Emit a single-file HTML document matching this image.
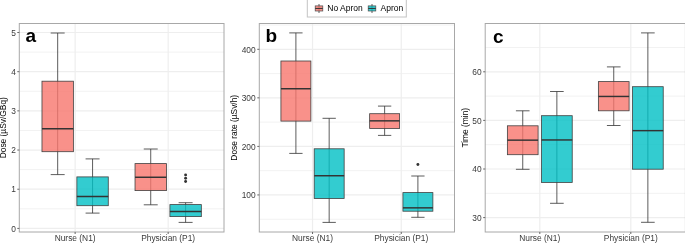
<!DOCTYPE html><html><head><meta charset="utf-8"><style>html,body{margin:0;padding:0;background:#fff;overflow:hidden;width:685px;height:243px;}svg{display:block;will-change:transform;}text{font-family:"Liberation Sans",sans-serif;}</style></head><body>
<svg width="685" height="243" viewBox="0 0 685 243">
<rect x="0" y="0" width="685" height="243" fill="#fff"/>
<line x1="19.3" y1="208.81" x2="224" y2="208.81" stroke="#F2F2F2" stroke-width="1.0"/><line x1="19.3" y1="169.63" x2="224" y2="169.63" stroke="#F2F2F2" stroke-width="1.0"/><line x1="19.3" y1="130.45" x2="224" y2="130.45" stroke="#F2F2F2" stroke-width="1.0"/><line x1="19.3" y1="91.27" x2="224" y2="91.27" stroke="#F2F2F2" stroke-width="1.0"/><line x1="19.3" y1="52.09" x2="224" y2="52.09" stroke="#F2F2F2" stroke-width="1.0"/><line x1="19.3" y1="228.4" x2="224" y2="228.4" stroke="#EEEEEE" stroke-width="1.2"/><line x1="19.3" y1="189.22" x2="224" y2="189.22" stroke="#EEEEEE" stroke-width="1.2"/><line x1="19.3" y1="150.04" x2="224" y2="150.04" stroke="#EEEEEE" stroke-width="1.2"/><line x1="19.3" y1="110.86" x2="224" y2="110.86" stroke="#EEEEEE" stroke-width="1.2"/><line x1="19.3" y1="71.68" x2="224" y2="71.68" stroke="#EEEEEE" stroke-width="1.2"/><line x1="19.3" y1="32.5" x2="224" y2="32.5" stroke="#EEEEEE" stroke-width="1.2"/><line x1="75.13" y1="23.5" x2="75.13" y2="232" stroke="#EEEEEE" stroke-width="1.2"/><line x1="168.17" y1="23.5" x2="168.17" y2="232" stroke="#EEEEEE" stroke-width="1.2"/>
<line x1="259.3" y1="219.23" x2="454.5" y2="219.23" stroke="#F2F2F2" stroke-width="1.0"/><line x1="259.3" y1="170.68" x2="454.5" y2="170.68" stroke="#F2F2F2" stroke-width="1.0"/><line x1="259.3" y1="122.12" x2="454.5" y2="122.12" stroke="#F2F2F2" stroke-width="1.0"/><line x1="259.3" y1="73.58" x2="454.5" y2="73.58" stroke="#F2F2F2" stroke-width="1.0"/><line x1="259.3" y1="25.03" x2="454.5" y2="25.03" stroke="#F2F2F2" stroke-width="1.0"/><line x1="259.3" y1="194.95" x2="454.5" y2="194.95" stroke="#EEEEEE" stroke-width="1.2"/><line x1="259.3" y1="146.4" x2="454.5" y2="146.4" stroke="#EEEEEE" stroke-width="1.2"/><line x1="259.3" y1="97.85" x2="454.5" y2="97.85" stroke="#EEEEEE" stroke-width="1.2"/><line x1="259.3" y1="49.3" x2="454.5" y2="49.3" stroke="#EEEEEE" stroke-width="1.2"/><line x1="312.54" y1="23.5" x2="312.54" y2="232" stroke="#EEEEEE" stroke-width="1.2"/><line x1="401.26" y1="23.5" x2="401.26" y2="232" stroke="#EEEEEE" stroke-width="1.2"/>
<line x1="485.2" y1="193.3" x2="685.4" y2="193.3" stroke="#F2F2F2" stroke-width="1.0"/><line x1="485.2" y1="144.7" x2="685.4" y2="144.7" stroke="#F2F2F2" stroke-width="1.0"/><line x1="485.2" y1="96.1" x2="685.4" y2="96.1" stroke="#F2F2F2" stroke-width="1.0"/><line x1="485.2" y1="47.5" x2="685.4" y2="47.5" stroke="#F2F2F2" stroke-width="1.0"/><line x1="485.2" y1="217.6" x2="685.4" y2="217.6" stroke="#EEEEEE" stroke-width="1.2"/><line x1="485.2" y1="169" x2="685.4" y2="169" stroke="#EEEEEE" stroke-width="1.2"/><line x1="485.2" y1="120.4" x2="685.4" y2="120.4" stroke="#EEEEEE" stroke-width="1.2"/><line x1="485.2" y1="71.8" x2="685.4" y2="71.8" stroke="#EEEEEE" stroke-width="1.2"/><line x1="539.8" y1="23.5" x2="539.8" y2="232" stroke="#EEEEEE" stroke-width="1.2"/><line x1="630.8" y1="23.5" x2="630.8" y2="232" stroke="#EEEEEE" stroke-width="1.2"/>
<line x1="57.68" y1="33" x2="57.68" y2="174.6" stroke="#333333" stroke-width="0.8"/><line x1="50.7" y1="33" x2="64.66" y2="33" stroke="#333333" stroke-width="0.8"/><line x1="50.7" y1="174.6" x2="64.66" y2="174.6" stroke="#333333" stroke-width="0.8"/><rect x="41.98" y="81.2" width="31.4" height="70.5" fill="#F8766D" fill-opacity="0.8" stroke="#404040" stroke-width="0.8"/><line x1="41.98" y1="128.65" x2="73.38" y2="128.65" stroke="#333333" stroke-width="1.45"/>
<line x1="92.57" y1="158.9" x2="92.57" y2="213.1" stroke="#333333" stroke-width="0.8"/><line x1="85.59" y1="158.9" x2="99.55" y2="158.9" stroke="#333333" stroke-width="0.8"/><line x1="85.59" y1="213.1" x2="99.55" y2="213.1" stroke="#333333" stroke-width="0.8"/><rect x="76.87" y="176.9" width="31.4" height="28.8" fill="#00BFC4" fill-opacity="0.8" stroke="#404040" stroke-width="0.8"/><line x1="76.87" y1="196.45" x2="108.27" y2="196.45" stroke="#333333" stroke-width="1.45"/>
<line x1="150.73" y1="149" x2="150.73" y2="204.8" stroke="#333333" stroke-width="0.8"/><line x1="143.75" y1="149" x2="157.71" y2="149" stroke="#333333" stroke-width="0.8"/><line x1="143.75" y1="204.8" x2="157.71" y2="204.8" stroke="#333333" stroke-width="0.8"/><rect x="135.03" y="163.6" width="31.4" height="27" fill="#F8766D" fill-opacity="0.8" stroke="#404040" stroke-width="0.8"/><line x1="135.03" y1="177.25" x2="166.43" y2="177.25" stroke="#333333" stroke-width="1.45"/>
<line x1="185.62" y1="202.7" x2="185.62" y2="222.4" stroke="#333333" stroke-width="0.8"/><line x1="178.64" y1="202.7" x2="192.6" y2="202.7" stroke="#333333" stroke-width="0.8"/><line x1="178.64" y1="222.4" x2="192.6" y2="222.4" stroke="#333333" stroke-width="0.8"/><rect x="169.92" y="204.6" width="31.4" height="12" fill="#00BFC4" fill-opacity="0.8" stroke="#404040" stroke-width="0.8"/><line x1="169.92" y1="211.55" x2="201.32" y2="211.55" stroke="#333333" stroke-width="1.45"/><circle cx="185.62" cy="174.9" r="1.45" fill="#333333"/><circle cx="185.62" cy="178.2" r="1.45" fill="#333333"/><circle cx="185.62" cy="181.5" r="1.45" fill="#333333"/>
<line x1="295.9" y1="32.9" x2="295.9" y2="153.4" stroke="#333333" stroke-width="0.8"/><line x1="289.25" y1="32.9" x2="302.55" y2="32.9" stroke="#333333" stroke-width="0.8"/><line x1="289.25" y1="153.4" x2="302.55" y2="153.4" stroke="#333333" stroke-width="0.8"/><rect x="280.93" y="61" width="29.95" height="60.1" fill="#F8766D" fill-opacity="0.8" stroke="#404040" stroke-width="0.8"/><line x1="280.93" y1="88.75" x2="310.87" y2="88.75" stroke="#333333" stroke-width="1.45"/>
<line x1="329.17" y1="118.3" x2="329.17" y2="222.4" stroke="#333333" stroke-width="0.8"/><line x1="322.52" y1="118.3" x2="335.83" y2="118.3" stroke="#333333" stroke-width="0.8"/><line x1="322.52" y1="222.4" x2="335.83" y2="222.4" stroke="#333333" stroke-width="0.8"/><rect x="314.2" y="148.8" width="29.95" height="49.7" fill="#00BFC4" fill-opacity="0.8" stroke="#404040" stroke-width="0.8"/><line x1="314.2" y1="175.75" x2="344.15" y2="175.75" stroke="#333333" stroke-width="1.45"/>
<line x1="384.63" y1="106.1" x2="384.63" y2="135.4" stroke="#333333" stroke-width="0.8"/><line x1="377.97" y1="106.1" x2="391.28" y2="106.1" stroke="#333333" stroke-width="0.8"/><line x1="377.97" y1="135.4" x2="391.28" y2="135.4" stroke="#333333" stroke-width="0.8"/><rect x="369.65" y="113.7" width="29.95" height="14.8" fill="#F8766D" fill-opacity="0.8" stroke="#404040" stroke-width="0.8"/><line x1="369.65" y1="120.85" x2="399.6" y2="120.85" stroke="#333333" stroke-width="1.45"/>
<line x1="417.9" y1="176" x2="417.9" y2="217.3" stroke="#333333" stroke-width="0.8"/><line x1="411.25" y1="176" x2="424.55" y2="176" stroke="#333333" stroke-width="0.8"/><line x1="411.25" y1="217.3" x2="424.55" y2="217.3" stroke="#333333" stroke-width="0.8"/><rect x="402.93" y="192.6" width="29.95" height="18.6" fill="#00BFC4" fill-opacity="0.8" stroke="#404040" stroke-width="0.8"/><line x1="402.93" y1="207.85" x2="432.87" y2="207.85" stroke="#333333" stroke-width="1.45"/><circle cx="417.9" cy="164.5" r="1.45" fill="#333333"/>
<line x1="522.74" y1="110.8" x2="522.74" y2="169.3" stroke="#333333" stroke-width="0.8"/><line x1="515.91" y1="110.8" x2="529.56" y2="110.8" stroke="#333333" stroke-width="0.8"/><line x1="515.91" y1="169.3" x2="529.56" y2="169.3" stroke="#333333" stroke-width="0.8"/><rect x="507.38" y="125.8" width="30.71" height="28.9" fill="#F8766D" fill-opacity="0.8" stroke="#404040" stroke-width="0.8"/><line x1="507.38" y1="140.15" x2="538.09" y2="140.15" stroke="#333333" stroke-width="1.45"/>
<line x1="556.86" y1="91.5" x2="556.86" y2="203.3" stroke="#333333" stroke-width="0.8"/><line x1="550.04" y1="91.5" x2="563.69" y2="91.5" stroke="#333333" stroke-width="0.8"/><line x1="550.04" y1="203.3" x2="563.69" y2="203.3" stroke="#333333" stroke-width="0.8"/><rect x="541.51" y="115.7" width="30.71" height="66.7" fill="#00BFC4" fill-opacity="0.8" stroke="#404040" stroke-width="0.8"/><line x1="541.51" y1="139.95" x2="572.22" y2="139.95" stroke="#333333" stroke-width="1.45"/>
<line x1="613.74" y1="66.9" x2="613.74" y2="125.5" stroke="#333333" stroke-width="0.8"/><line x1="606.91" y1="66.9" x2="620.56" y2="66.9" stroke="#333333" stroke-width="0.8"/><line x1="606.91" y1="125.5" x2="620.56" y2="125.5" stroke="#333333" stroke-width="0.8"/><rect x="598.38" y="81.6" width="30.71" height="29.2" fill="#F8766D" fill-opacity="0.8" stroke="#404040" stroke-width="0.8"/><line x1="598.38" y1="96.45" x2="629.09" y2="96.45" stroke="#333333" stroke-width="1.45"/>
<line x1="647.86" y1="32.9" x2="647.86" y2="222.3" stroke="#333333" stroke-width="0.8"/><line x1="641.04" y1="32.9" x2="654.69" y2="32.9" stroke="#333333" stroke-width="0.8"/><line x1="641.04" y1="222.3" x2="654.69" y2="222.3" stroke="#333333" stroke-width="0.8"/><rect x="632.51" y="86.7" width="30.71" height="82.5" fill="#00BFC4" fill-opacity="0.8" stroke="#404040" stroke-width="0.8"/><line x1="632.51" y1="130.65" x2="663.22" y2="130.65" stroke="#333333" stroke-width="1.45"/>
<rect x="19.3" y="23.5" width="204.7" height="208.5" fill="none" stroke="#A8A8A8" stroke-width="1"/>
<line x1="17.3" y1="228.4" x2="19.3" y2="228.4" stroke="#666666" stroke-width="1"/><text x="16" y="231.65" font-size="8.4" fill="#3a3a3a" text-anchor="end">0</text><line x1="17.3" y1="189.22" x2="19.3" y2="189.22" stroke="#666666" stroke-width="1"/><text x="16" y="192.47" font-size="8.4" fill="#3a3a3a" text-anchor="end">1</text><line x1="17.3" y1="150.04" x2="19.3" y2="150.04" stroke="#666666" stroke-width="1"/><text x="16" y="153.29" font-size="8.4" fill="#3a3a3a" text-anchor="end">2</text><line x1="17.3" y1="110.86" x2="19.3" y2="110.86" stroke="#666666" stroke-width="1"/><text x="16" y="114.11" font-size="8.4" fill="#3a3a3a" text-anchor="end">3</text><line x1="17.3" y1="71.68" x2="19.3" y2="71.68" stroke="#666666" stroke-width="1"/><text x="16" y="74.93" font-size="8.4" fill="#3a3a3a" text-anchor="end">4</text><line x1="17.3" y1="32.5" x2="19.3" y2="32.5" stroke="#666666" stroke-width="1"/><text x="16" y="35.75" font-size="8.4" fill="#3a3a3a" text-anchor="end">5</text><line x1="75.13" y1="232" x2="75.13" y2="234" stroke="#666666" stroke-width="1"/><text x="75.13" y="241.35" font-size="8.4" fill="#3a3a3a" text-anchor="middle">Nurse (N1)</text><line x1="168.17" y1="232" x2="168.17" y2="234" stroke="#666666" stroke-width="1"/><text x="168.17" y="241.35" font-size="8.4" fill="#3a3a3a" text-anchor="middle">Physician (P1)</text><text x="25.6" y="42.3" font-size="19" font-weight="bold" fill="#000">a</text><text x="6.15" y="127.75" font-size="8.4" fill="#000" text-anchor="middle" transform="rotate(-90 6.15 127.75)">Dose (µSv/GBq)</text>
<rect x="259.3" y="23.5" width="195.2" height="208.5" fill="none" stroke="#A8A8A8" stroke-width="1"/>
<line x1="257.3" y1="194.95" x2="259.3" y2="194.95" stroke="#666666" stroke-width="1"/><text x="255.7" y="198.2" font-size="8.4" fill="#3a3a3a" text-anchor="end">100</text><line x1="257.3" y1="146.4" x2="259.3" y2="146.4" stroke="#666666" stroke-width="1"/><text x="255.7" y="149.65" font-size="8.4" fill="#3a3a3a" text-anchor="end">200</text><line x1="257.3" y1="97.85" x2="259.3" y2="97.85" stroke="#666666" stroke-width="1"/><text x="255.7" y="101.1" font-size="8.4" fill="#3a3a3a" text-anchor="end">300</text><line x1="257.3" y1="49.3" x2="259.3" y2="49.3" stroke="#666666" stroke-width="1"/><text x="255.7" y="52.55" font-size="8.4" fill="#3a3a3a" text-anchor="end">400</text><line x1="312.54" y1="232" x2="312.54" y2="234" stroke="#666666" stroke-width="1"/><text x="312.54" y="241.35" font-size="8.4" fill="#3a3a3a" text-anchor="middle">Nurse (N1)</text><line x1="401.26" y1="232" x2="401.26" y2="234" stroke="#666666" stroke-width="1"/><text x="401.26" y="241.35" font-size="8.4" fill="#3a3a3a" text-anchor="middle">Physician (P1)</text><text x="265.6" y="42.3" font-size="19" font-weight="bold" fill="#000">b</text><text x="236.7" y="127.75" font-size="8.4" fill="#000" text-anchor="middle" transform="rotate(-90 236.7 127.75)">Dose rate (µSv/h)</text>
<rect x="485.2" y="23.5" width="200.2" height="208.5" fill="none" stroke="#A8A8A8" stroke-width="1"/>
<line x1="483.2" y1="217.6" x2="485.2" y2="217.6" stroke="#666666" stroke-width="1"/><text x="481.7" y="220.85" font-size="8.4" fill="#3a3a3a" text-anchor="end">30</text><line x1="483.2" y1="169" x2="485.2" y2="169" stroke="#666666" stroke-width="1"/><text x="481.7" y="172.25" font-size="8.4" fill="#3a3a3a" text-anchor="end">40</text><line x1="483.2" y1="120.4" x2="485.2" y2="120.4" stroke="#666666" stroke-width="1"/><text x="481.7" y="123.65" font-size="8.4" fill="#3a3a3a" text-anchor="end">50</text><line x1="483.2" y1="71.8" x2="485.2" y2="71.8" stroke="#666666" stroke-width="1"/><text x="481.7" y="75.05" font-size="8.4" fill="#3a3a3a" text-anchor="end">60</text><line x1="539.8" y1="232" x2="539.8" y2="234" stroke="#666666" stroke-width="1"/><text x="539.8" y="241.35" font-size="8.4" fill="#3a3a3a" text-anchor="middle">Nurse (N1)</text><line x1="630.8" y1="232" x2="630.8" y2="234" stroke="#666666" stroke-width="1"/><text x="630.8" y="241.35" font-size="8.4" fill="#3a3a3a" text-anchor="middle">Physician (P1)</text><text x="492.9" y="43.2" font-size="19" font-weight="bold" fill="#000">c</text><text x="467.6" y="127.75" font-size="8.4" fill="#000" text-anchor="middle" transform="rotate(-90 467.6 127.75)">Time (min)</text>
<rect x="307.3" y="-5" width="99" height="22" fill="#fff" stroke="#C4C4C4" stroke-width="1"/><line x1="319" y1="4" x2="319" y2="13" stroke="#333333" stroke-width="0.8"/><rect x="315.2" y="5.9" width="7.6" height="5.1" fill="#F8766D" fill-opacity="0.8" stroke="#4a4a4a" stroke-width="0.7"/><line x1="315.2" y1="8.45" x2="322.8" y2="8.45" stroke="#333333" stroke-width="1"/><text x="327.3" y="11.4" font-size="8.5" fill="#000">No Apron</text><line x1="372" y1="4" x2="372" y2="13" stroke="#333333" stroke-width="0.8"/><rect x="368.2" y="5.9" width="7.6" height="5.1" fill="#00BFC4" fill-opacity="0.8" stroke="#4a4a4a" stroke-width="0.7"/><line x1="368.2" y1="8.45" x2="375.8" y2="8.45" stroke="#333333" stroke-width="1"/><text x="380.6" y="11.4" font-size="8.5" fill="#000">Apron</text>
</svg></body></html>
